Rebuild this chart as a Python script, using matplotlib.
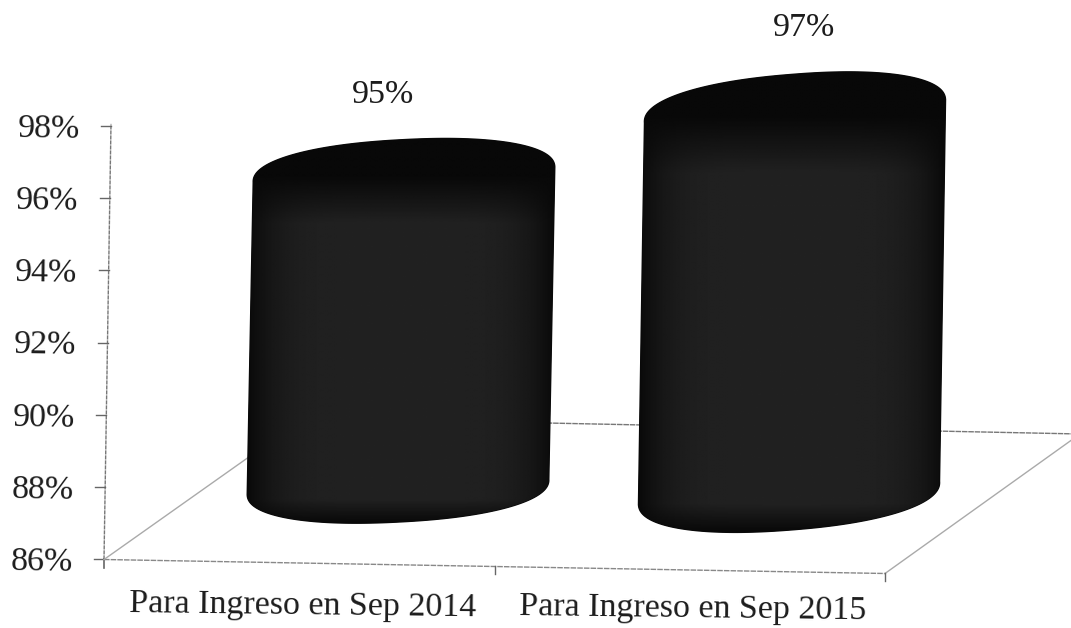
import numpy as np
import matplotlib
matplotlib.use("Agg")
import matplotlib.pyplot as plt
from matplotlib.patches import PathPatch
from matplotlib.path import Path

categories = ["Para Ingreso en Sep 2014", "Para Ingreso en Sep 2015"]
values = [95, 97]
value_labels = ["95%", "97%"]
y_ticks = [86, 88, 90, 92, 94, 96, 98]
y_tick_labels = ["86%", "88%", "90%", "92%", "94%", "96%", "98%"]

W, H = 1071, 628
PX_PER_CAT = 390.5
PX_PER_PCT = 36.15
X0, Y0 = 104, 559.5
FS = 'Liberation Serif'

fig = plt.figure(figsize=(W / 100, H / 100), dpi=100)
ax = fig.add_axes([0, 0, 1, 1])
ax.axis('off')


def dx(px):
    return px / PX_PER_CAT


def dy(px):
    return -px / PX_PER_PCT


top = y_ticks[-1]
ax.plot([0, dx(7)], [86, top + 0.05], color='#777777', lw=1.0, ls=(0, (3, 0.6)))
for t, lab in zip(y_ticks, y_tick_labels):
    lean = (t - 86) / 12 * dx(7)
    ax.plot([lean - dx(10), lean], [t, t], color='#666666', lw=1.0)
    ax.text(lean - dx(31), t + dy(3), lab, ha='right', va='center', fontsize=24.5,
            family=FS, color='#1c1c1c', rotation=-0.8)
ax.plot([0, 0], [86, 86 + dy(9)], color='#666666', lw=1.2)

# floor outline
front_end = (2, 86 + dy(14))
back_left = (dx(200), 86 + dy(-141.5))
back_right = (dx(976), 86 + dy(-125.5))
ax.plot([0, front_end[0]], [86, front_end[1]], color='#888888', lw=1.0, ls=(0, (4, 0.8)))
ax.plot([0, back_left[0]], [86, back_left[1]], color='#aaaaaa', lw=1.0)
ax.plot([front_end[0], back_right[0]], [front_end[1], back_right[1]], color='#aaaaaa', lw=1.0)
ax.plot([back_left[0], back_right[0]], [back_left[1], back_right[1]], color='#777777', lw=1.0,
        ls=(0, (4, 0.6)))
for c in [1, 2]:
    base = 86 + dy(14 * c / 2)
    ax.plot([c, c], [base, base + dy(8)], color='#666666', lw=1.0)

# cylinders
SCALE = 0.96
geo = [
    dict(bx=398, by=487, tx=404, a=151, b=35, tilt=-3.0, lx=-21),
    dict(bx=789, by=493, tx=795, a=151, b=37, tilt=-4.5, lx=9),
]


def ell(cx, cy, a, b, tilt, t):
    e = 0.9
    c, s = np.cos(t), np.sin(t)
    x = a * np.sign(c) * np.abs(c) ** e
    y = b * np.sign(s) * np.abs(s) ** e
    r = np.radians(tilt)
    return cx + x * np.cos(r) - y * np.sin(r), cy + x * np.sin(r) + y * np.cos(r)


for g, v, lab in zip(geo, values, value_labels):
    ty = g['by'] - PX_PER_PCT * SCALE * (v - 86)
    t_top = np.linspace(np.pi, 2 * np.pi, 120)
    t_bot = np.linspace(0, np.pi, 120)
    xt, yt = ell(g['tx'], ty, g['a'], g['b'], g['tilt'], t_top)
    xb, yb = ell(g['bx'], g['by'], g['a'], g['b'], g['tilt'], t_bot)
    px = np.r_[xt, xb]
    py = np.r_[yt, yb]
    verts = np.c_[(px - X0) / PX_PER_CAT, 86 + (Y0 - py) / PX_PER_PCT]
    path = Path(np.r_[verts, verts[:1]], closed=True)
    patch = PathPatch(path, fc='#0c0c0c', ec='#0a0a0a', lw=1.0, zorder=3)
    ax.add_patch(patch)

    xs = np.linspace(-1, 1, 200)
    ys = np.linspace(0, 1, 300)
    X, Y = np.meshgrid(xs, ys)
    cap = np.clip((Y - 0.10) / 0.12, 0, 1)
    side = np.clip(1 - np.abs(X) ** 5, 0, 1)
    foot = np.clip((1 - Y) / 0.06, 0, 1)
    shade = 0.035 + 0.095 * cap * side * foot
    x_ext = ((min(px) - X0) / PX_PER_CAT, (max(px) - X0) / PX_PER_CAT)
    y_ext = (86 + (Y0 - max(py)) / PX_PER_PCT, 86 + (Y0 - min(py)) / PX_PER_PCT)
    im = ax.imshow(shade, extent=(x_ext[0], x_ext[1], y_ext[0], y_ext[1]), origin='upper',
                   cmap='gray', vmin=0, vmax=1, aspect='auto', zorder=4, interpolation='bilinear')
    im.set_clip_path(patch)

    label_y = 86 + (Y0 - (min(py) - 44)) / PX_PER_PCT
    ax.text(dx(g['tx'] - X0 + g['lx']), label_y, lab, ha='center', va='center',
            fontsize=24.5, family=FS, color='#1c1c1c', zorder=5)

ax.set_xlim(-X0 / PX_PER_CAT, (W - X0) / PX_PER_CAT)
ax.set_ylim(86 - (H - Y0) / PX_PER_PCT, 86 + Y0 / PX_PER_PCT)

for c, cat in zip([0.5, 1.5], categories):
    ax.text(c + dx(3), 86 + dy(46 + (c - 0.5) * 3), cat, ha='center', va='center',
            fontsize=24.5, family=FS, color='#1c1c1c', rotation=-0.7)

fig.savefig('out.png', dpi=100, facecolor='white')
